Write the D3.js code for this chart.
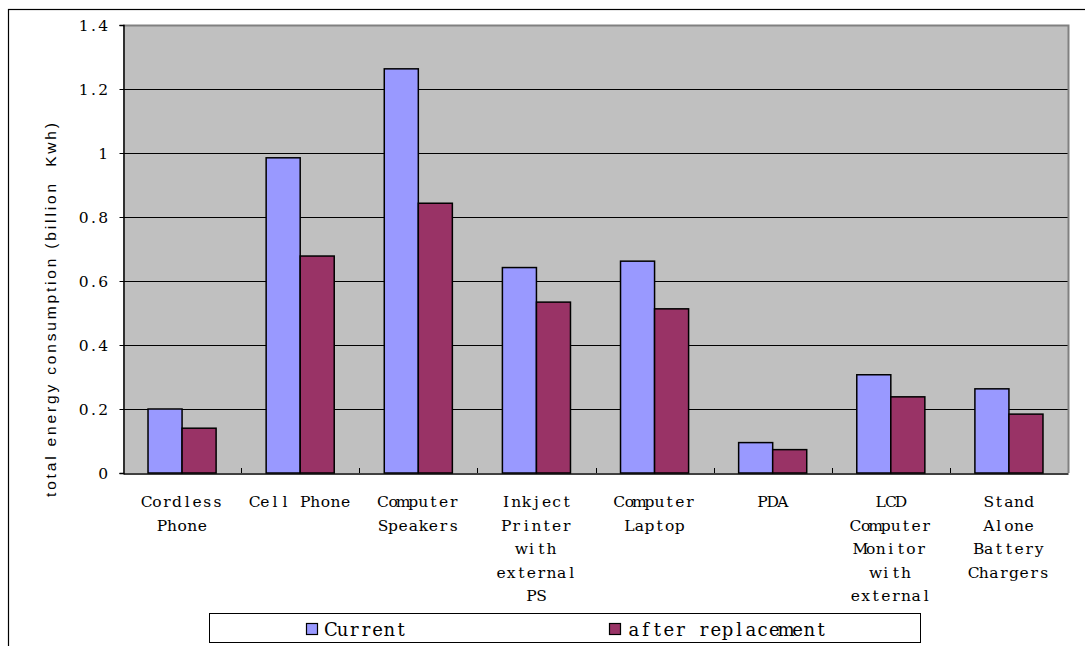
<!DOCTYPE html>
<html>
<head>
<meta charset="utf-8">
<script src="https://cdn.jsdelivr.net/npm/d3@7"></script>
<style>
  body { margin: 0; background: #fff; }
  svg { display: block; }
</style>
</head>
<body>
<svg class="displayContext" width="1085" height="646"></svg>
<script>
var categories  = ["Cordless Phone", "Cell Phone", "Computer Speakers",
                   "Inkject Printer with external PS", "Computer Laptop", "PDA",
                   "LCD Computer Monitor with external PS", "Stand Alone Battery Chargers"];
var seriesNames = ["Current", "after replacement"];
var currentData     = [0.200, 0.985, 1.263, 0.642, 0.662, 0.095, 0.307, 0.263];
var replacementData = [0.140, 0.678, 0.843, 0.534, 0.513, 0.073, 0.238, 0.184];
var yTicks = [0, 0.2, 0.4, 0.6, 0.8, 1, 1.2, 1.4];
var yTitle = "total energy consumption (billion  Kwh)";

var colours = ["#9999ff", "#993366"];
var serifFont = "'DejaVu Serif', 'Liberation Serif', serif";

// fixed-pitch serif text: every character centred in its own cell
function monoText(parent, str, startX, y, adv, size){
  var xs = [];
  for (var k = 0; k < str.length; k++) xs.push(startX + adv * (k + 0.5));
  return parent.append("text")
    .attr("x", xs.join(" "))
    .attr("y", y)
    .attr("text-anchor", "middle")
    .attr("font-family", serifFont)
    .attr("font-size", size)
    .attr("fill", "#000")
    .text(str.replace(/ /g, "\u00a0"));
}

function drawChart(){

  var svg = d3.select(".displayContext");

  var left = 123, right = 1068, top = 25, bottom = 473;

  // outer chart frame (right and bottom edges fall outside the picture)
  svg.append("rect")
    .attr("x", 8.5).attr("y", 9.5)
    .attr("width", 1200).attr("height", 800)
    .attr("fill", "#fff").attr("stroke", "#000").attr("stroke-width", 1.2);

  var scaleX = d3.scaleBand()
    .domain(categories)
    .range([left, right]);

  var scaleS = d3.scaleBand()
    .domain(seriesNames)
    .range([0, scaleX.bandwidth()])
    .paddingOuter(0.735);

  var scaleY = d3.scaleLinear()
    .domain([0, 1.4])
    .range([bottom, top]);

  // plot area
  svg.append("rect")
    .attr("x", left).attr("y", top)
    .attr("width", right - left).attr("height", bottom - top)
    .attr("fill", "#c0c0c0");

  // gridlines
  svg.append("g").selectAll("line")
    .data(yTicks.slice(1, -1))
    .enter().append("line")
    .attr("x1", left).attr("x2", right)
    .attr("y1", function(d){ return Math.round(scaleY(d)) + 0.5; })
    .attr("y2", function(d){ return Math.round(scaleY(d)) + 0.5; })
    .attr("stroke", "#000").attr("stroke-width", 1);

  // grey top / right border of plot area
  svg.append("path")
    .attr("d", "M" + left + "," + (top + 0.5) + "H" + (right + 0.5) + "V" + bottom)
    .attr("fill", "none").attr("stroke", "#808080").attr("stroke-width", 2);

  // bars
  var seriesData = [currentData, replacementData];
  seriesData.forEach(function(data, si){
    svg.append("g").selectAll("rect")
      .data(data)
      .enter().append("rect")
      .attr("x", function(d, i){ return scaleX(categories[i]) + scaleS(seriesNames[si]); })
      .attr("y", function(d){ return scaleY(d); })
      .attr("width", scaleS.bandwidth())
      .attr("height", function(d){ return scaleY(0) - scaleY(d); })
      .attr("fill", colours[si])
      .attr("stroke", "#000")
      .attr("stroke-width", 1.5);
  });

  // y axis (labels drawn separately in fixed pitch)
  var y_axis = d3.axisLeft(scaleY)
    .tickValues(yTicks)
    .tickFormat("")
    .tickSize(4);

  var gy = svg.append("g")
    .attr("transform", "translate(" + (left + 0.5) + ",0)")
    .call(y_axis);
  gy.select(".domain").attr("stroke", "#000").attr("stroke-width", 1.5);

  yTicks.forEach(function(t){
    var s = String(t);
    monoText(svg, s, 108 - s.length * 9.7, scaleY(t) + 6, 9.7, 15.5);
  });

  // x axis with inward ticks at category boundaries
  var x_axis = d3.axisBottom(scaleX)
    .tickSize(0)
    .tickFormat("");
  var gx = svg.append("g")
    .attr("transform", "translate(0," + (bottom + 0.5) + ")")
    .call(x_axis);
  gx.select(".domain").attr("stroke", "#000").attr("stroke-width", 1.5);

  svg.append("g").selectAll("line")
    .data(categories.slice(1))
    .enter().append("line")
    .attr("x1", function(d){ return Math.round(scaleX(d)) + 0.5; })
    .attr("x2", function(d){ return Math.round(scaleX(d)) + 0.5; })
    .attr("y1", bottom).attr("y2", bottom - 5)
    .attr("stroke", "#000").attr("stroke-width", 1);

  // category labels, wrapped at 10 characters
  var labelAdv = 10.1;
  categories.forEach(function(c){
    var lines = wrapWords(c, 10);
    var cx = scaleX(c) + scaleX.bandwidth() / 2;
    lines.forEach(function(l, li){
      monoText(svg, l, cx - l.length * labelAdv / 2, 507 + li * 23.6, labelAdv, 15.5);
    });
  });

  // y axis title
  svg.append("text")
    .attr("transform", "translate(56,310) rotate(-90)")
    .attr("text-anchor", "middle")
    .attr("font-family", "'Liberation Sans', Arial, sans-serif")
    .attr("font-size", 15.5)
    .attr("fill", "#000")
    .attr("textLength", 374)
    .attr("lengthAdjust", "spacing")
    .text(yTitle.replace(/ /g, "\u00a0"));

  // legend
  var legend = svg.append("g");
  legend.append("rect")
    .attr("x", 209.5).attr("y", 613.5)
    .attr("width", 711).attr("height", 29)
    .attr("fill", "#fff").attr("stroke", "#000").attr("stroke-width", 1);

  var legendX = [306, 609];
  seriesNames.forEach(function(s, si){
    legend.append("rect")
      .attr("x", legendX[si] + 0.5).attr("y", 623.5)
      .attr("width", 11).attr("height", 11)
      .attr("fill", colours[si]).attr("stroke", "#000").attr("stroke-width", 1.2);
    monoText(legend, s, legendX[si] + 19, 636, 11.7, 18);
  });
}

function wrapWords(str, maxChars){
  var words = str.split(" ");
  var lines = [];
  var cur = "";
  words.forEach(function(w){
    if (cur === "") cur = w;
    else if ((cur + " " + w).length <= maxChars) cur = cur + " " + w;
    else { lines.push(cur); cur = w; }
  });
  if (cur !== "") lines.push(cur);
  return lines;
}

drawChart();
</script>
</body>
</html>
